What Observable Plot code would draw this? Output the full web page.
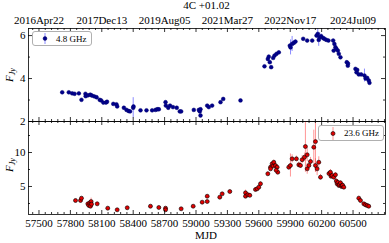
<!DOCTYPE html>
<html><head><meta charset="utf-8">
<script src="https://cdn.jsdelivr.net/npm/d3@7"></script>
<script src="https://cdn.jsdelivr.net/npm/@observablehq/plot@0.6"></script>
<style>
body{margin:0;width:389px;height:243px;position:relative;overflow:hidden;background:#fff;font-family:"Liberation Serif","DejaVu Serif",serif;color:#000}
.abs{position:absolute}
#top{top:0;left:0}
#bot{top:120px;left:0}
.title{top:-1px;left:28px;width:357px;text-align:center;font-size:11px}
.ylab{font-size:11px;transform:rotate(-90deg);transform-origin:center;white-space:nowrap;width:30px;text-align:center}
.ylab sub{font-size:8px;font-style:italic;vertical-align:-2px}
.legend{border:1px solid #b0b0b0;border-radius:3px;background:#fff;font-size:9px;display:flex;align-items:center;box-sizing:border-box}
.legend svg{margin-right:6px}
.xlab{font-size:11px;text-align:center}
</style>
</head><body>
<div id="top" class="abs"></div>
<div id="bot" class="abs"></div>
<div class="abs title">4C +01.02</div>
<div class="abs ylab" style="left:-5px;top:68px"><i>F</i><sub>Jy</sub></div>
<div class="abs ylab" style="left:-5px;top:158px"><i>F</i><sub>Jy</sub></div>
<div class="abs xlab" style="left:186px;top:229px;width:40px">MJD</div>
<div class="abs legend" style="left:32px;top:31px;width:60px;height:15px;padding-left:7px">
  <svg width="10" height="13"><line x1="5" x2="5" y1="1" y2="12" stroke="rgba(90,90,255,0.7)"/><circle cx="5" cy="6.5" r="1.9" fill="#00008b" stroke="#000060" stroke-width="0.5"/></svg>4.8 GHz</div>
<div class="abs legend" style="left:318px;top:125px;width:66px;height:16px;padding-left:9px">
  <svg width="10" height="13"><line x1="5" x2="5" y1="0" y2="13" stroke="rgba(255,80,80,0.6)"/><circle cx="5" cy="6.5" r="2" fill="#e00000" stroke="#000" stroke-width="0.6"/></svg>23.6 GHz</div>
<script>
// ---- data: 4.8 GHz ----
const mjd48 = [57722,57785,57817,57840,57881,57906,57944,57946,57968,57990,58005,58028,58050,58080,58094,58115,58140,58150,58210,58240,58247,58311,58336,58355,58370,58400,58403,58470,58527,58581,58613,58630,58645,58709,58712,58735,58752,58780,58816,58845,58858,58979,59027,59036,59043,59043,59107,59122,59154,59234,59260,59425,59654,59686,59695,59705,59718,59737,59750,59769,59791,59896,59903,59918,59934,59950,60024,60062,60110,60151,60163,60172,60182,60196,60215,60227,60245,60265,60310,60315,60322,60332,60342,60355,60364,60380,60440,60450,60452,60523,60533,60540,60555,60578,60609,60620,60635,60650,60657];
const flux48 = [3.36,3.36,3.31,3.29,3.31,3.01,3.29,3.18,3.22,3.25,3.21,3.17,3.13,3.01,2.98,2.88,2.88,2.92,2.82,2.80,2.70,2.64,2.54,2.49,2.47,2.64,2.70,2.52,2.52,2.52,2.54,2.57,2.57,2.90,2.74,2.64,2.74,2.67,2.64,2.47,2.47,2.54,2.54,2.47,2.57,2.28,2.74,2.67,2.74,2.90,3.05,2.98,4.57,4.91,5.02,4.76,4.53,4.96,5.07,5.15,5.22,5.53,5.45,5.61,5.66,5.72,5.85,5.77,5.77,6.00,6.08,5.80,5.92,5.97,5.88,5.85,5.80,5.77,5.77,5.30,5.61,5.46,5.38,5.30,5.15,4.99,4.76,4.60,4.70,4.45,4.29,4.40,4.19,4.19,4.14,4.00,4.03,3.91,3.80];
const err48 = [.04,.04,.04,.04,.04,.04,.05,.05,.04,.04,.04,.04,.04,.04,.04,.04,.04,.04,.04,.04,.04,.04,.04,.04,.04,.47,.06,.04,.04,.04,.04,.04,.04,.05,.04,.04,.04,.04,.04,.04,.04,.04,.04,.04,.04,.04,.04,.04,.04,.04,.04,.04,.05,.06,.07,.06,.06,.06,.06,.06,.06,.08,.35,.35,.1,.08,.06,.06,.06,.1,.3,.3,.2,.1,.08,.08,.07,.07,.07,.06,.07,.07,.06,.06,.06,.06,.06,.06,.06,.06,.06,.06,.06,.06,.3,.06,.06,.06,.06];
// ---- data: 23.6 GHz ----
const mjd236 = [57849,57897,57906,57967,57976,57986,57992,57998,58002,58056,58157,58247,58343,58565,58645,58709,58709,58858,58973,59059,59107,59107,59227,59250,59323,59473,59473,59495,59514,59568,59584,59600,59616,59686,59712,59727,59735,59743,59759,59775,59712,59781,59765,59886,59902,59918,59959,59982,59998,60014,60036,60045,60062,60062,60078,60094,60125,60141,60141,60157,60173,60189,60270,60284,60290,60300,60316,60332,60340,60348,60355,60364,60370,60380,60390,60396,60400,60412,60555,60571,60603,60619,60635,60650];
const flux236 = [2.94,2.94,3.28,2.45,2.21,2.60,2.10,2.79,2.40,2.45,1.81,1.57,1.87,2.10,1.91,1.81,1.57,1.72,2.10,2.69,3.57,2.79,3.43,3.92,4.26,4.07,3.57,3.78,3.70,4.56,4.66,4.90,5.40,6.87,7.84,8.33,8.00,8.57,8.09,7.84,7.60,7.10,7.40,7.84,8.09,9.07,9.07,8.19,8.09,8.94,9.31,10.88,9.66,7.60,8.09,8.68,10.78,11.60,8.09,7.60,8.57,6.37,6.90,7.10,6.50,6.62,6.37,6.72,5.80,5.40,5.60,5.15,5.30,5.54,5.00,5.15,5.20,4.90,3.28,2.94,2.45,2.30,2.21,2.10];
const err236 = [.15,.15,.15,.2,.15,.2,.15,.5,.2,.25,.15,.15,.15,.15,.15,.15,.15,.15,.15,.15,.2,.15,.2,.2,.2,.4,.3,.3,.3,.2,.2,.4,.3,.3,.3,.3,.3,.3,.3,.3,.3,.3,.3,.4,1.7,.6,.4,.4,.4,.6,.6,3.8,1.0,.8,.6,.6,2.5,4.5,1.0,1.0,.8,.4,.3,.4,.3,.4,.3,.3,.3,.3,.3,.3,.3,.3,.3,.3,.3,.3,.3,.2,.2,.15,.15,.15];
// ---- ticks ----
const xMajor = [57500,57800,58100,58400,58700,59000,59300,59600,59900,60200,60500];
const topTicks = [57500,58100,58700,59300,59900,60500];
const topLabels = ["2016Apr22","2017Dec13","2019Aug05","2021Mar27","2022Nov17","2024Jul09"];
const y48Major = [2,4,6], y48Minor = [3,5];
const y236Major = [5,10], y236Minor = [2.5,7.5,12.5];

const xDomain = [57400, 60810];
const xMinor = d3.range(57440, 60810, 60).filter(v => !xMajor.includes(v));
const d48 = mjd48.map((m,i)=>({m, f:flux48[i], e:err48[i]}));
const d236 = mjd236.map((m,i)=>({m, f:flux236[i], e:err236[i]}));

const W = 389, ML = 28, MR = 4;
const PW = W - ML - MR;
function tickMarks(ph, yMaj, yMin){
  const mk = [];
  for (const [vals, len] of [[xMajor,4],[xMinor,2]]) {
    mk.push(Plot.tickX(vals, {x: d=>d, insetTop: ph-len, stroke:"black", strokeWidth:0.8}));
    mk.push(Plot.tickX(vals, {x: d=>d, insetBottom: ph-len, stroke:"black", strokeWidth:0.8}));
  }
  for (const [vals, len] of [[yMaj,4],[yMin,2]]) {
    mk.push(Plot.tickY(vals, {y: d=>d, insetRight: PW-len, stroke:"black", strokeWidth:0.8}));
    mk.push(Plot.tickY(vals, {y: d=>d, insetLeft: PW-len, stroke:"black", strokeWidth:0.8}));
  }
  return mk;
}
const style = {fontFamily:"'Liberation Serif', serif", fontSize:"11px", color:"black", background:"transparent", overflow:"visible"};

const y48 = [2, 6.33];
const topH = 122, topMT = 28, topMB = 1;
const topPlot = Plot.plot({
  width: W, height: topH, marginLeft: ML, marginRight: MR, marginTop: topMT, marginBottom: topMB,
  x: {domain: xDomain}, y: {domain: y48},
  style,
  marks: [
    Plot.ruleX(d48, {x:"m", y1:d=>Math.max(d.f-d.e,y48[0]), y2:d=>Math.min(d.f+d.e,y48[1]), stroke:"#5a5aff", strokeOpacity:0.7, strokeWidth:1}),
    Plot.dot(d48, {x:"m", y:"f", r:1.9, fill:"#00008b", stroke:"#000070", strokeWidth:0.5}),
    Plot.frame({stroke:"black", strokeWidth:0.8}),
    ...tickMarks(topH-topMT-topMB, y48Major, y48Minor),
    Plot.axisY({ticks: y48Major, tickFormat: d=>String(d), tickSize:0, tickPadding:3, label:null}),
    Plot.axisX({anchor:"top", ticks: topTicks, tickFormat: d=>topLabels[topTicks.indexOf(d)], tickSize:0, tickPadding:5, label:null})
  ]
});
document.getElementById("top").append(topPlot);

const y236 = [0.88, 14.56];
const botH = 123, botMT = 1, botMB = 29;
const botPlot = Plot.plot({
  width: W, height: botH, marginLeft: ML, marginRight: MR, marginTop: botMT, marginBottom: botMB,
  x: {domain: xDomain}, y: {domain: y236},
  style,
  marks: [
    Plot.ruleX(d236, {x:"m", y1:d=>Math.max(d.f-d.e,y236[0]), y2:d=>Math.min(d.f+d.e,y236[1]), stroke:"#ff5050", strokeOpacity:0.6, strokeWidth:1}),
    Plot.dot(d236, {x:"m", y:"f", r:2, fill:"#e00000", stroke:"black", strokeWidth:0.6}),
    Plot.frame({stroke:"black", strokeWidth:0.8}),
    ...tickMarks(botH-botMT-botMB, y236Major, y236Minor),
    Plot.axisY({ticks: y236Major, tickFormat: d=>String(d), tickSize:0, tickPadding:3, label:null}),
    Plot.axisX({anchor:"bottom", ticks: xMajor, tickFormat: d=>String(d), tickSize:0, tickPadding:5, label:null})
  ]
});
document.getElementById("bot").append(botPlot);
</script>
</body></html>
